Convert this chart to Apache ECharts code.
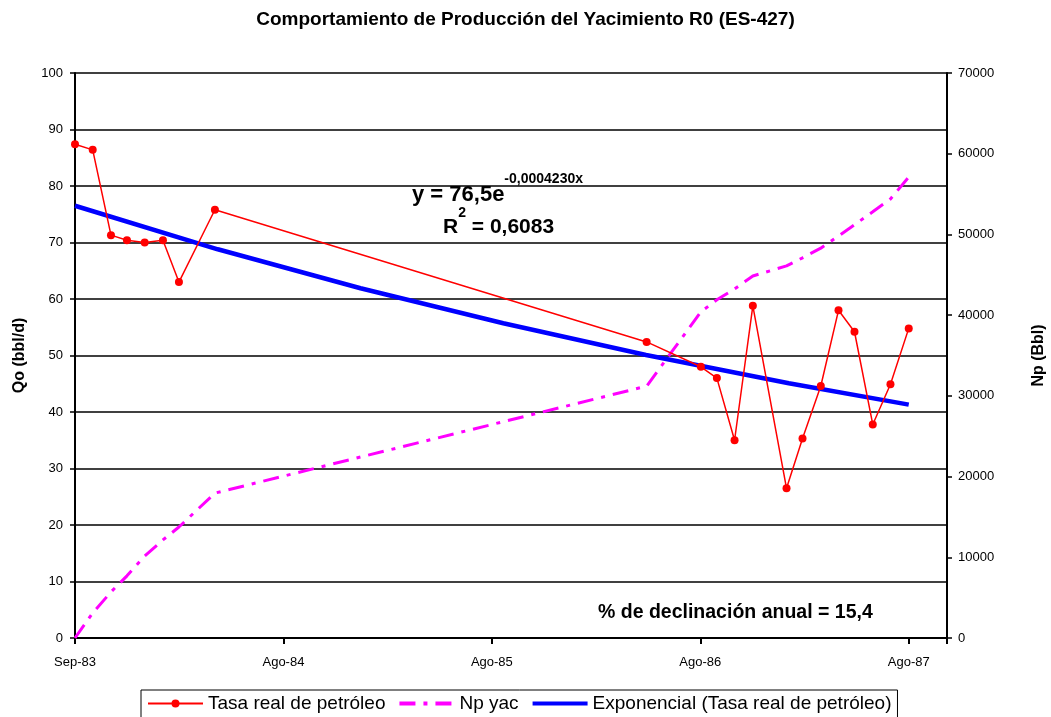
<!DOCTYPE html>
<html>
<head>
<meta charset="utf-8">
<script src="https://cdn.jsdelivr.net/npm/echarts@6/dist/echarts.min.js"></script>
<style>
html, body { margin: 0; padding: 0; background: #fff; }
#chart { width: 1051px; height: 717px; }
</style>
</head>
<body>
<div id="chart"></div>
<script>
// x = days since Sep-83 (first measurement)
var days = [0, 31, 63, 91, 122, 154, 182, 245, 1001, 1096, 1124, 1155, 1187, 1246, 1274, 1306, 1337, 1365, 1397, 1428, 1460];
var tasaReal = [87.4, 86.4, 71.3, 70.4, 70.0, 70.4, 63.0, 75.8, 52.4, 48.0, 46.0, 35.0, 58.8, 26.5, 35.3, 44.6, 58.0, 54.2, 37.8, 44.9, 54.8];
var npYac = [0, 3100, 5700, 7700, 10150, 12150, 13750, 17950, 31200, 40400, 41900, 43250, 44850, 46100, 47100, 48300, 49800, 51200, 52800, 54400, 57100];

// exponential trend line
var trendDays = [0, 250, 500, 750, 1000, 1250, 1460];
var trendVals = [76.5, 68.8, 61.9, 55.7, 50.1, 45.1, 41.3];

var xTickLabels = ['Sep-83', 'Ago-84', 'Ago-85', 'Ago-86', 'Ago-87'];

function pairs(xs, ys){
    var out = [];
    for (var i = 0; i < xs.length; i++){
        out.push([xs[i], ys[i]]);
    }
    return out;
}

var font = "'Liberation Sans', Arial, sans-serif";
var myChart = echarts.init(document.getElementById('chart'));

var option = {
    "backgroundColor": "#fff",
    "animation": false,
    "title": {
        "text": "Comportamiento de Producción del Yacimiento R0 (ES-427)",
        "left": "center",
        "top": 5,
        "textStyle": {"fontFamily": font, "fontSize": 19, "fontWeight": "bold", "color": "#000"}
    },
    "grid": {
        "left": 75, "right": 104, "top": 73, "bottom": 79,
        "outerBoundsMode": "none"
    },
    "legend": {
        "data": [
            {"name": "Tasa real de petróleo", "lineStyle": {"width": 2}},
            {"name": "Np yac", "itemStyle": {"color": "transparent", "borderWidth": 0}, "lineStyle": {"width": 4}},
            {"name": "Exponencial (Tasa real de petróleo)", "itemStyle": {"color": "transparent", "borderWidth": 0}, "lineStyle": {"width": 4}}
        ],
        "left": 141,
        "top": 690,
        "padding": [4, 6, 8, 6],
        "itemWidth": 55,
        "itemHeight": 10,
        "itemGap": 12,
        "borderColor": "#000",
        "borderWidth": 1,
        "borderRadius": 0,
        "textStyle": {"fontFamily": font, "fontSize": 19, "color": "#000"}
    },
    "xAxis": {
        "type": "value",
        "min": 0,
        "max": 1527,
        "interval": 365,
        "axisLine": {"lineStyle": {"color": "#000", "width": 2}},
        "axisTick": {"length": 6, "lineStyle": {"color": "#000", "width": 2}},
        "splitLine": {"show": false},
        "axisLabel": {
            "margin": 18,
            "fontFamily": font, "fontSize": 13, "color": "#000",
            "formatter": function(v){
                if (v % 365 !== 0) return '';
                return xTickLabels[v / 365] || '';
            }
        }
    },
    "yAxis": [
        {
            "type": "value",
            "min": 0, "max": 100, "interval": 10,
            "name": "Qo (bbl/d)",
            "nameLocation": "middle",
            "nameGap": 47,
            "nameRotate": 90,
            "nameTextStyle": {"fontFamily": font, "fontSize": 16, "fontWeight": "bold", "color": "#000"},
            "axisLine": {"show": true, "lineStyle": {"color": "#000", "width": 2}},
            "axisTick": {"show": true, "length": 5, "lineStyle": {"color": "#000", "width": 1.5}},
            "axisLabel": {"margin": 12, "fontFamily": font, "fontSize": 13, "color": "#000"},
            "splitLine": {"lineStyle": {"color": "#000", "width": 1.6}}
        },
        {
            "type": "value",
            "position": "right",
            "min": 0, "max": 70000, "interval": 10000,
            "name": "Np (Bbl)",
            "nameLocation": "middle",
            "nameGap": 84,
            "nameRotate": 90,
            "nameTextStyle": {"fontFamily": font, "fontSize": 16, "fontWeight": "bold", "color": "#000"},
            "axisLine": {"show": true, "lineStyle": {"color": "#000", "width": 2}},
            "axisTick": {"show": true, "length": 5, "lineStyle": {"color": "#000", "width": 1.5}},
            "axisLabel": {
                "margin": 11, "fontFamily": font, "fontSize": 13, "color": "#000",
                "formatter": function(v){ return String(v); }
            },
            "splitLine": {"show": false}
        }
    ],
    "series": [
        {
            "name": "Np yac",
            "type": "line",
            "yAxisIndex": 1,
            "showSymbol": false,
            "symbol": "none",
            "color": "#ff00ff",
            "lineStyle": {"color": "#ff00ff", "width": 3, "type": [16, 8, 4, 8]},
            "data": pairs(days, npYac)
        },
        {
            "name": "Exponencial (Tasa real de petróleo)",
            "type": "line",
            "showSymbol": false,
            "symbol": "none",
            "color": "#0000ff",
            "lineStyle": {"color": "#0000ff", "width": 4.5},
            "data": pairs(trendDays, trendVals)
        },
        {
            "name": "Tasa real de petróleo",
            "type": "line",
            "symbol": "circle",
            "symbolSize": 8,
            "color": "#ff0000",
            "itemStyle": {"color": "#ff0000"},
            "lineStyle": {"color": "#ff0000", "width": 1.5},
            "data": pairs(days, tasaReal)
        }
    ],
    "graphic": [
        {
            "type": "text",
            "left": 412,
            "top": 172,
            "z": 100,
            "style": {
                "text": "{b|y = 76,5e}{s|-0,0004230x}",
                "rich": {
                    "b": {"fontFamily": font, "fontSize": 22, "fontWeight": "bold", "fill": "#000", "lineHeight": 34, "verticalAlign": "bottom"},
                    "s": {"fontFamily": font, "fontSize": 14, "fontWeight": "bold", "fill": "#000", "lineHeight": 34, "verticalAlign": "top"}
                }
            }
        },
        {
            "type": "text",
            "left": 443,
            "top": 206,
            "z": 100,
            "style": {
                "text": "{b|R}{s|2}{b| = 0,6083}",
                "rich": {
                    "b": {"fontFamily": font, "fontSize": 21, "fontWeight": "bold", "fill": "#000", "lineHeight": 32, "verticalAlign": "bottom"},
                    "s": {"fontFamily": font, "fontSize": 14, "fontWeight": "bold", "fill": "#000", "lineHeight": 32, "verticalAlign": "top"}
                }
            }
        },
        {
            "type": "text",
            "left": 598,
            "top": 603,
            "z": 100,
            "style": {
                "text": "% de declinación anual = 15,4",
                "fontFamily": font, "fontSize": 19.5, "fontWeight": "bold", "fill": "#000"
            }
        }
    ]
};
myChart.setOption(option);
</script>
</body>
</html>
